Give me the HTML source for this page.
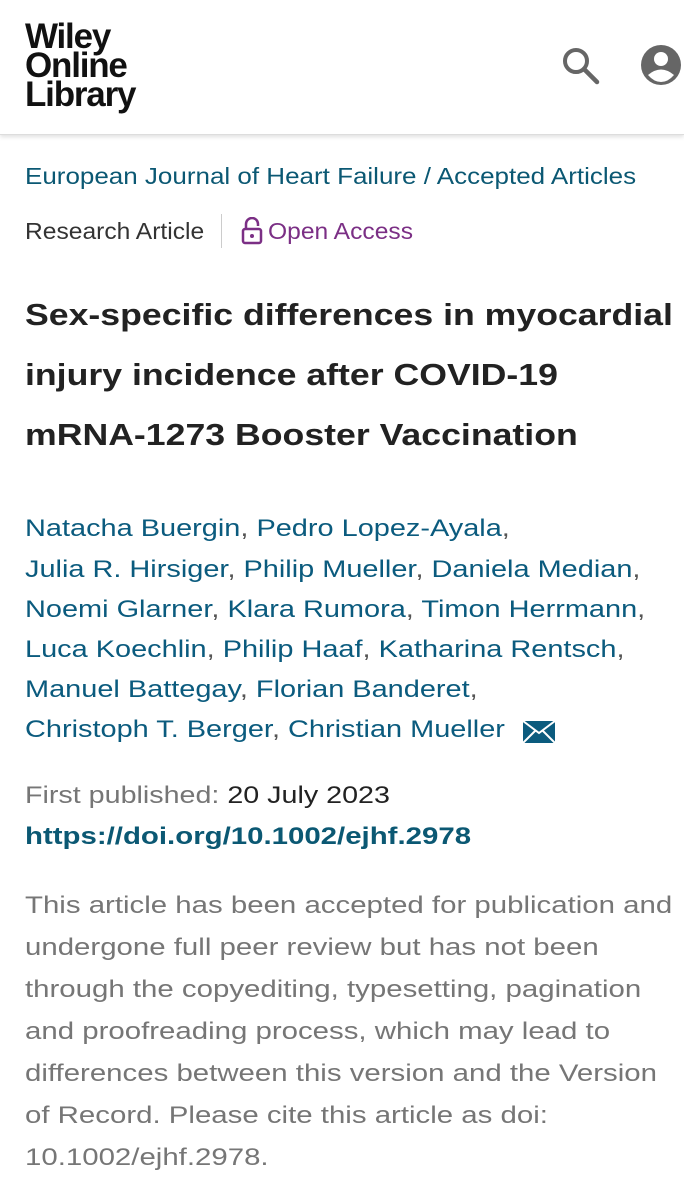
<!DOCTYPE html>
<html><head><meta charset="utf-8"><style>
body{margin:0;width:684px;height:1200px;background:#fff;position:relative;overflow:hidden;font-family:"Liberation Sans",sans-serif}
.l{position:absolute;left:25px;white-space:nowrap;line-height:40px;height:40px;transform-origin:0 50%}
.hdr{position:absolute;left:0;top:0;width:684px;height:134px;background:#fff;border-bottom:1px solid #ddd;box-shadow:0 2px 4px rgba(0,0,0,.12)}
.logo{position:absolute;left:25px;font-weight:bold;font-size:35px;color:#111;line-height:29px;top:22px;letter-spacing:-1.2px}
.j{font-size:23px;color:#0b5873}
.t{font-size:31px;font-weight:bold;color:#222;transform:scaleX(1.15)}
.a{font-size:24.5px;color:#0b5b7e;transform:scaleX(1.18)}
.a span{color:#555}
.p{font-size:24.5px;color:#767676;transform:scaleX(1.2)}
</style></head><body>
<div class="hdr">
<div class="logo">Wiley<br>Online<br>Library</div>
<svg style="position:absolute;left:560px;top:45px" width="42" height="42" viewBox="0 0 42 42"><circle cx="16" cy="16" r="11" fill="none" stroke="#666" stroke-width="4"/><line x1="24" y1="24" x2="37" y2="37" stroke="#666" stroke-width="4.5" stroke-linecap="round"/></svg>
<svg style="position:absolute;left:640px;top:44px" width="42" height="42" viewBox="0 0 42 42"><circle cx="21" cy="21" r="20" fill="#666"/><circle cx="21" cy="15" r="7" fill="#fff"/><path d="M8 31 Q21 20 34 31 Q28 38 21 38 Q14 38 8 31Z" fill="#fff"/></svg>
</div>
<div class="l j" style="top:156px;transform:scaleX(1.13)">European Journal of Heart Failure / Accepted Articles</div>
<div class="l j" style="top:211px;color:#333;transform:scaleX(1.07)">Research Article</div>
<div style="position:absolute;left:221px;top:214px;width:1px;height:34px;background:#ccc"></div>
<svg style="position:absolute;left:241px;top:217px" width="22" height="28" viewBox="0 0 22 28"><path d="M5 12 V7 a6 6 0 0 1 12 0 V9" fill="none" stroke="#7b2f85" stroke-width="2.5"/><rect x="2" y="12" width="18" height="14" rx="2" fill="none" stroke="#7b2f85" stroke-width="2.5"/><circle cx="11" cy="19" r="2" fill="#7b2f85"/></svg>
<div class="l j" style="top:211px;left:268px;color:#7b2f85;transform:scaleX(1.07)">Open Access</div>
<div class="l t" style="top:295px">Sex-specific differences in myocardial</div>
<div class="l t" style="top:355px">injury incidence after COVID-19</div>
<div class="l t" style="top:415px">mRNA-1273 Booster Vaccination</div>
<div class="l a" style="top:509px">Natacha Buergin<span>,</span> Pedro Lopez-Ayala<span>,</span></div>
<div class="l a" style="top:550px">Julia R. Hirsiger<span>,</span> Philip Mueller<span>,</span> Daniela Median<span>,</span></div>
<div class="l a" style="top:590px">Noemi Glarner<span>,</span> Klara Rumora<span>,</span> Timon Herrmann<span>,</span></div>
<div class="l a" style="top:630px">Luca Koechlin<span>,</span> Philip Haaf<span>,</span> Katharina Rentsch<span>,</span></div>
<div class="l a" style="top:670px">Manuel Battegay<span>,</span> Florian Banderet<span>,</span></div>
<div class="l a" style="top:710px">Christoph T. Berger<span>,</span> Christian Mueller</div>
<svg style="position:absolute;left:522px;top:721px" width="34" height="22" viewBox="0 0 32 22"><rect width="32" height="22" fill="#0b5b7e"/><path d="M0 0 L16 12 L32 0 M0 22 L12 10 M32 22 L20 10" stroke="#fff" stroke-width="2" fill="none"/></svg>
<div class="l p" style="top:776px;transform:scaleX(1.17)">First published: <span style="color:#222">20 July 2023</span></div>
<div class="l a" style="top:817px;font-weight:bold;color:#0b5873;transform:scaleX(1.2)">https://doi.org/10.1002/ejhf.2978</div>
<div class="l p" style="top:886px">This article has been accepted for publication and</div>
<div class="l p" style="top:928px">undergone full peer review but has not been</div>
<div class="l p" style="top:970px">through the copyediting, typesetting, pagination</div>
<div class="l p" style="top:1012px">and proofreading process, which may lead to</div>
<div class="l p" style="top:1054px">differences between this version and the Version</div>
<div class="l p" style="top:1096px">of Record. Please cite this article as doi:</div>
<div class="l p" style="top:1138px">10.1002/ejhf.2978.</div>
</body></html>
